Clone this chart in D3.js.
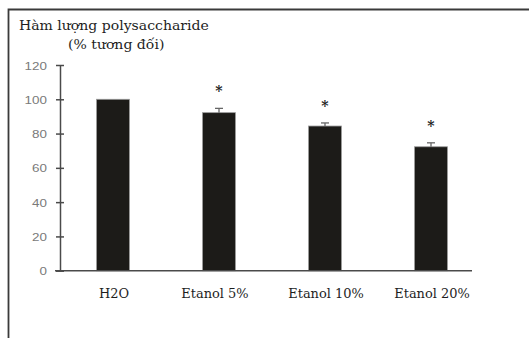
<!DOCTYPE html>
<html>
<head>
<meta charset="utf-8">
<script src="https://cdn.jsdelivr.net/npm/d3@7"></script>
<style>
  html, body { margin: 0; padding: 0; background: #fff; }
  .serif { font-family: "DejaVu Serif", "Liberation Serif", serif; }
  .sans { font-family: "Liberation Sans", Arial, sans-serif; }
</style>
</head>
<body>
<div id="chartContainer"></div>
<script>
// Data
const categories = ["H2O", "Etanol 5%", "Etanol 10%", "Etanol 20%"];
const values = [100, 92.2, 84.4, 72.3];
const errors = [0, 2.5, 1.8, 2.3];
const significant = [false, true, true, true];
const yTicks = [0, 20, 40, 60, 80, 100, 120];
const titleLines = ["Hàm lượng polysaccharide", "(% tương đối)"];

// The original picture is stretched sideways, so the texts are too
const sx = 1.08;

const W = 529, H = 338;

const svg = d3.select("#chartContainer")
    .append("svg")
    .attr("width", W)
    .attr("height", H);

svg.append("rect")
    .attr("width", W)
    .attr("height", H)
    .attr("fill", "#fff");

// frame (only left and top edges are visible in the crop)
svg.append("path")
    .attr("d", `M8.5,${H} V9.5 H${W}`)
    .attr("fill", "none")
    .attr("stroke", "#3a3a3a")
    .attr("stroke-width", 1.8);

// scales
const x = d3.scaleBand()
    .domain(categories)
    .range([60, 484])
    .paddingInner(0.69)
    .paddingOuter(0.345);

const y = d3.scaleLinear()
    .domain([0, 120])
    .range([270.7, 65]);

// title
svg.append("text")
    .attr("class", "serif")
    .attr("transform", `translate(19,30) scale(${sx},1)`)
    .attr("font-size", 13)
    .attr("fill", "#1e1e1e")
    .text(titleLines[0]);

svg.append("text")
    .attr("class", "serif")
    .attr("transform", `translate(68,49) scale(${sx},1)`)
    .attr("font-size", 13)
    .attr("fill", "#1e1e1e")
    .text(titleLines[1]);

// y axis
const yAxis = d3.axisLeft(y)
    .tickValues(yTicks)
    .tickSize(0)
    .tickPadding(0);

const gy = svg.append("g")
    .attr("transform", "translate(60,0)")
    .call(yAxis);

gy.attr("font-family", null);

gy.select(".domain")
    .attr("stroke", "#4a4a4a")
    .attr("stroke-width", 1.5);

gy.selectAll(".tick line")
    .attr("x1", -4)
    .attr("x2", 4)
    .attr("stroke", "#4a4a4a")
    .attr("stroke-width", 1.5);

gy.selectAll(".tick text")
    .attr("class", "sans")
    .attr("x", null)
    .attr("dy", null)
    .attr("transform", `translate(-13,4) scale(1.28,1)`)
    .attr("font-size", 10.5)
    .attr("fill", "#7a7a7a");

// bars
svg.selectAll(".bar")
    .data(categories)
    .join("rect")
    .attr("class", "bar")
    .attr("x", d => x(d))
    .attr("y", (d, i) => y(values[i]))
    .attr("width", x.bandwidth())
    .attr("height", (d, i) => y(0) - y(values[i]))
    .attr("fill", "#1c1b18")
    .attr("stroke", "#9a9a9a")
    .attr("stroke-width", 0.8);

// error bars (upper half only)
const err = svg.selectAll(".err")
    .data(categories.filter((d, i) => errors[i] > 0))
    .join("g")
    .attr("class", "err")
    .attr("stroke", "#666")
    .attr("stroke-width", 1.3);

err.append("line")
    .attr("x1", d => x(d) + x.bandwidth() / 2)
    .attr("x2", d => x(d) + x.bandwidth() / 2)
    .attr("y1", d => y(values[categories.indexOf(d)]))
    .attr("y2", d => { const i = categories.indexOf(d); return y(values[i] + errors[i]); });

err.append("line")
    .attr("x1", d => x(d) + x.bandwidth() / 2 - 4)
    .attr("x2", d => x(d) + x.bandwidth() / 2 + 4)
    .attr("y1", d => { const i = categories.indexOf(d); return y(values[i] + errors[i]); })
    .attr("y2", d => { const i = categories.indexOf(d); return y(values[i] + errors[i]); });

// significance stars
svg.selectAll(".star")
    .data(categories.filter((d, i) => significant[i]))
    .join("text")
    .attr("class", "star serif")
    .attr("transform", d => {
        const i = categories.indexOf(d);
        return `translate(${x(d) + x.bandwidth() / 2},${y(values[i] + errors[i]) - 12})`;
    })
    .attr("text-anchor", "middle")
    .attr("font-size", 14)
    .attr("font-weight", "bold")
    .attr("fill", "#1e1e1e")
    .text("*");

// x axis line and labels
svg.append("line")
    .attr("x1", 55)
    .attr("x2", 472)
    .attr("y1", y(0))
    .attr("y2", y(0))
    .attr("stroke", "#4a4a4a")
    .attr("stroke-width", 1.5);

svg.selectAll(".xlabel")
    .data(categories)
    .join("text")
    .attr("class", "xlabel serif")
    .attr("transform", d => `translate(${x(d) + x.bandwidth() / 2 + (categories.indexOf(d) === 1 ? -4 : 1)},298) scale(${sx},1)`)
    .attr("text-anchor", "middle")
    .attr("font-size", 12)
    .attr("fill", "#1e1e1e")
    .text(d => d);
</script>
</body>
</html>
